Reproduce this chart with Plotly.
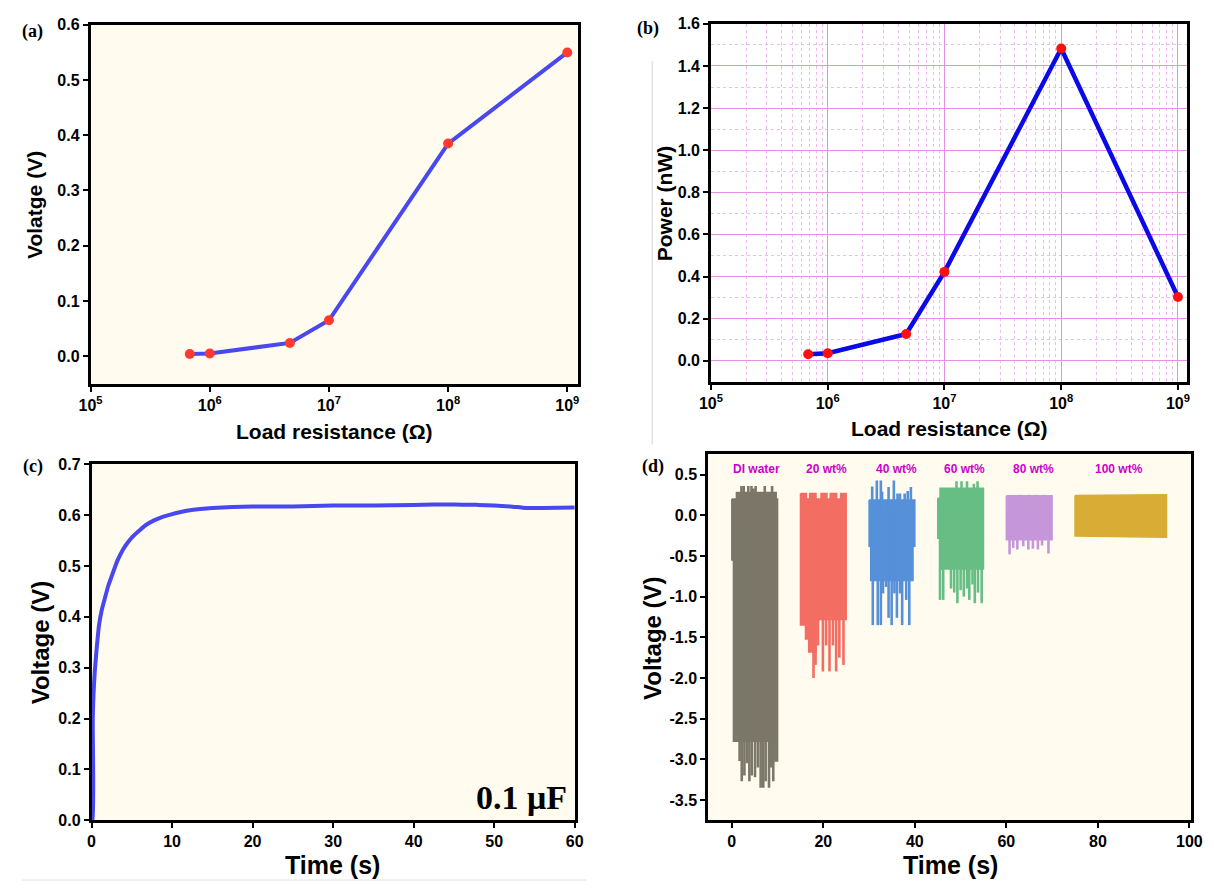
import plotly.graph_objects as go

# ---------------- data ----------------
# (a) / (b) load-resistance sweep
R_load = [6.8e5, 1e6, 4.7e6, 1e7, 1e8, 1e9]
voltage_a = [0.004, 0.005, 0.024, 0.065, 0.385, 0.55]
power_b = [0.031, 0.036, 0.127, 0.422, 1.483, 0.303]

# (c) capacitor charging (0.1 uF)
t_c = [0, 0.12, 0.15, 0.25, 0.41, 0.65, 0.93, 1.25, 1.63, 2.1, 2.64, 3.2, 3.86, 4.45, 5.08,
       5.9, 6.7, 7.7, 8.74, 9.8, 10.8, 12.0, 13.5, 15, 17.5, 20, 25, 30, 35, 40, 45, 48,
       50, 52, 54, 56, 60]
v_c = [0, 0, 0.197, 0.25, 0.294, 0.34, 0.384, 0.412, 0.435, 0.462, 0.486, 0.51, 0.531, 0.545, 0.557,
       0.569, 0.58, 0.589, 0.596, 0.601, 0.605, 0.609, 0.612, 0.614, 0.616, 0.617, 0.617, 0.619, 0.619,
       0.62, 0.621, 0.62, 0.619, 0.617, 0.614, 0.614, 0.615]

# (d) output signals for different concentrations
samples = ["DI water", "20 wt%", "40 wt%", "60 wt%", "80 wt%", "100 wt%"]
sample_colors = ["#7b7769", "#f46d62", "#5590d9", "#67be84", "#c596d9", "#d9ad35"]
label_t = [5.3, 20.6, 36.1, 50.8, 65.9, 84.6]
label_v = 0.57

# envelopes of the dense oscillation band: edges (t) and levels (V)
# "step": levels hold between edges; "linear": levels are corner values at the edges
env_kind = ["step", "step", "step", "step", "step", "linear"]
upper_t = [[0, 1.0, 9.7, 10], [15, 16.3, 17.0, 18.4, 19.5, 20.8, 21.5, 22.9, 23.8, 25],
           [30, 40], [45, 45.5, 55], [60, 70], [75, 95]]
upper_v = [[0.2, 0.28, 0.2], [0.27, 0.2, 0.27, 0.2, 0.27, 0.2, 0.27, 0.2, 0.27],
           [0.19], [0.21, 0.335], [0.24], [0.245, 0.255]]
lower_t = [[0, 0.35, 9.4, 10], [15, 16.1, 16.8, 18.4, 25],
           [30, 30.35, 39.6, 40], [45, 45.5, 55], [60, 70], [75, 95]]
lower_v = [[-0.55, -2.78, -3.02], [-1.35, -1.52, -1.68, -1.28],
           [-0.38, -0.8, -0.38], [-0.28, -0.66], [-0.30], [-0.255, -0.27]]

# individual spikes (peak times and peak voltages)
up_spike_t = [[2.1, 2.6, 3.6, 4.3, 4.7, 5.2, 7.2, 8.8], [],
              [30.68, 31.69, 32.57, 32.84, 34.26, 35.41, 36.22, 36.76, 37.77, 38.45, 39.13],
              [49.1, 50.2, 51.4, 52.9, 53.7], [63, 65, 66.5, 68.3], []]
up_spike_v = [[0.36, 0.36, 0.36, 0.36, 0.33, 0.36, 0.36, 0.36], [],
              [0.355, 0.43, 0.43, 0.29, 0.35, 0.43, 0.27, 0.27, 0.27, 0.3, 0.35],
              [0.42, 0.42, 0.42, 0.39, 0.42], [0.255, 0.255, 0.255, 0.255], []]
down_spike_t = [[1.7, 2.17, 2.75, 3.3, 3.84, 4.35, 5.07, 5.7, 6.3, 6.88, 7.39, 8.12, 8.6, 9.06, 9.78],
                [17.85, 18.3, 18.85, 19.9, 20.6, 21.35, 22.1, 22.8, 23.5, 24.4],
                [30.81, 31.89, 32.57, 33.04, 33.72, 34.26, 34.93, 35.54, 36.08, 36.76, 37.23, 38.11, 38.79],
                [45.5, 46.2, 47.9, 48.6, 49.3, 50.0, 50.7, 51.4, 51.9, 52.6, 53.1, 53.8, 54.6],
                [60.7, 61.5, 62.4, 63.7, 64.8, 65.8, 66.9, 67.8, 69.2], []]
down_spike_v = [[-3.02, -3.27, -3.2, -3.05, -3.27, -3.2, -3.22, -3.1, -3.35, -3.35, -3.27, -3.35, -3.1, -3.27, -3.02],
                [-2.0, -1.84, -1.6, -1.92, -1.6, -1.92, -1.6, -1.92, -1.75, -1.84],
                [-1.35, -1.35, -1.35, -0.96, -0.88, -1.26, -1.35, -0.96, -1.26, -0.96, -1.35, -1.04, -1.35],
                [-1.04, -1.04, -0.9, -0.95, -1.08, -0.92, -1.0, -0.9, -1.04, -0.85, -1.08, -0.95, -1.08],
                [-0.48, -0.40, -0.42, -0.38, -0.42, -0.41, -0.42, -0.37, -0.47], []]

# tick labels
log_ticks = [1e5, 1e6, 1e7, 1e8, 1e9]
log_ticktext = ["10<sup>5</sup>", "10<sup>6</sup>", "10<sup>7</sup>", "10<sup>8</sup>", "10<sup>9</sup>"]
d_yticks = [0.5, 0.0, -0.5, -1.0, -1.5, -2.0, -2.5, -3.0, -3.5]
d_yticktext = ["0.5", "0.0", "-0.5", "-1.0", "-1.5", "-2.0", "-2.5", "-3.0", "-3.5"]

# ---------------- figure ----------------
OFF_X, OFF_Y = 8, 6       # page margin compensation
W, H = 1214 - OFF_X, 890 - OFF_Y
def fx(p): return (p - OFF_X) / W
def fy(p): return 1 - (p - OFF_Y) / H

CREAM = "#fffcef"
fig = go.Figure()

# (a)
fig.add_trace(go.Scatter(x=R_load, y=voltage_a, mode="lines+markers", xaxis="x", yaxis="y",
                         line=dict(color="#4848ee", width=4),
                         marker=dict(color="#ff3b2f", size=10), showlegend=False))
# (b)
fig.add_trace(go.Scatter(x=R_load, y=power_b, mode="lines+markers", xaxis="x2", yaxis="y2",
                         line=dict(color="#0a0ae6", width=4.5),
                         marker=dict(color="#ff1010", size=10), showlegend=False))
# (c)
fig.add_trace(go.Scatter(x=t_c, y=v_c, mode="lines", xaxis="x3", yaxis="y3",
                         line=dict(color="#4848ee", width=4, shape="spline", smoothing=0.6),
                         showlegend=False))

# (d)
def env_path(ts, vs, kind):
    if kind == "linear":
        return list(ts), list(vs)
    xs, ys = [], []
    for i, v in enumerate(vs):
        xs += [ts[i], ts[i + 1]]
        ys += [v, v]
    return xs, ys

for i, name in enumerate(samples):
    ux, uy = env_path(upper_t[i], upper_v[i], env_kind[i])
    lx, ly = env_path(lower_t[i], lower_v[i], env_kind[i])
    px_ = ux + lx[::-1] + [ux[0]]
    py_ = uy + ly[::-1] + [uy[0]]
    fig.add_trace(go.Scatter(x=px_, y=py_, mode="lines", fill="toself", fillcolor=sample_colors[i],
                             line=dict(color=sample_colors[i], width=1.5), xaxis="x4", yaxis="y4",
                             showlegend=False, name=name))
    sx, sy = [], []
    for t, v in zip(up_spike_t[i], up_spike_v[i]):
        sx += [t, t, None]; sy += [0, v, None]
    for t, v in zip(down_spike_t[i], down_spike_v[i]):
        sx += [t, t, None]; sy += [0, v, None]
    if sx:
        fig.add_trace(go.Scatter(x=sx, y=sy, mode="lines", line=dict(color=sample_colors[i], width=2.6),
                                 xaxis="x4", yaxis="y4", showlegend=False, connectgaps=False))

TICKFONT = dict(family="Liberation Sans, Arial, sans-serif", size=16, color="black", weight="bold")
base = dict(showline=True, linecolor="black", linewidth=2.5, mirror=True, ticks="outside",
            ticklen=5, tickwidth=2, tickcolor="black", tickfont=TICKFONT, showgrid=False,
            zeroline=False, fixedrange=True)

# pixel boxes on the page: (left, right, top, bottom)
boxA = (80, 577, 15, 381)
boxB = (713, 1199, 14, 379)
boxC = (81, 574, 463, 826)
boxD = (710, 1203, 453, 826)

def dom(box):
    l, r, t, b = box
    return [fx(l), fx(r)], [fy(b), fy(t)]

dA = dom(boxA); dB = dom(boxB); dC = dom(boxC); dD = dom(boxD)

fig.update_layout(
    width=W, height=H, margin=dict(l=0, r=0, t=0, b=0),
    paper_bgcolor="white", plot_bgcolor="white",
    xaxis=dict(base, type="log", range=[5, 9.087], tickvals=log_ticks, ticktext=log_ticktext,
               domain=dA[0], anchor="y"),
    yaxis=dict(base, range=[-0.05, 0.6], dtick=0.1, tick0=0, tickformat=".1f", domain=dA[1], anchor="x"),
    xaxis2=dict(base, type="log", range=[5, 9.08], tickvals=log_ticks, ticktext=log_ticktext,
                domain=dB[0], anchor="y2",
                showgrid=True, gridcolor="#e590e5", gridwidth=1,
                minor=dict(showgrid=True, gridcolor="#f1b9f1", griddash="dot", gridwidth=1,
                           dtick="D1", ticks="")),
    yaxis2=dict(base, range=[-0.1, 1.6], dtick=0.2, tick0=0, tickformat=".1f", domain=dB[1], anchor="x2",
                showgrid=True, gridcolor="#e590e5", gridwidth=1,
                minor=dict(showgrid=True, gridcolor="#f1b9f1", griddash="dot", gridwidth=1,
                           dtick=0.1, tick0=0, ticks="")),
    xaxis3=dict(base, range=[0, 60], dtick=10, domain=dC[0], anchor="y3"),
    yaxis3=dict(base, range=[0, 0.7], dtick=0.1, tickformat=".1f", domain=dC[1], anchor="x3"),
    xaxis4=dict(base, range=[-5.2, 100.4], tickvals=[0, 20, 40, 60, 80, 100], domain=dD[0], anchor="y4"),
    yaxis4=dict(base, range=[-3.75, 0.75], tickvals=d_yticks, ticktext=d_yticktext,
                domain=dD[1], anchor="x4"),
)

# cream plot backgrounds for a, c, d
shapes = []
for xr, yr in [("x", "y"), ("x3", "y3"), ("x4", "y4")]:
    shapes.append(dict(type="rect", xref=f"{xr} domain", yref=f"{yr} domain", x0=0, x1=1, y0=0, y1=1,
                       fillcolor=CREAM, line=dict(width=0), layer="below"))
# thin grey scan-edge lines of the composite
shapes.append(dict(type="line", xref="paper", yref="paper", x0=fx(653), x1=fx(653), y0=fy(52), y1=fy(443),
                   line=dict(color="#d5d5d5", width=1)))
shapes.append(dict(type="line", xref="paper", yref="paper", x0=fx(10), x1=fx(586), y0=fy(887), y1=fy(887),
                   line=dict(color="#e0e0e0", width=1)))
fig.update_layout(shapes=shapes)

TITLE_AB = dict(family="Liberation Sans, Arial, sans-serif", size=21, color="black", weight="bold")
TITLE_CD = dict(family="Liberation Sans, Arial, sans-serif", size=24, color="black", weight="bold")
TITLE_T = dict(family="Liberation Sans, Arial, sans-serif", size=25, color="black", weight="bold")
PANELFONT = dict(family="Liberation Serif, Times New Roman, serif", size=18, color="black", weight="bold")
ann = []
def paper_text(text, x, y, font, angle=0):
    ann.append(dict(text=text, x=fx(x), y=fy(y), xref="paper", yref="paper", showarrow=False,
                    xanchor="center", yanchor="middle", font=font, textangle=angle))

paper_text("Load resistance (Ω)", 329, 430, TITLE_AB)
paper_text("Load resistance (Ω)", 956, 427, TITLE_AB)
paper_text("Time (s)", 327, 872, TITLE_T)
paper_text("Time (s)", 957, 872, TITLE_T)
paper_text("Volatge (V)", 23, 199, TITLE_AB, -90)
paper_text("Power (nW)", 665, 197, TITLE_AB, -90)
paper_text("Voltage (V)", 29, 645, TITLE_CD, -90)
paper_text("Voltage (V)", 654, 640, TITLE_CD, -90)
paper_text("(a)", 21, 22, PANELFONT)
paper_text("(b)", 649, 19, PANELFONT)
paper_text("(c)", 21, 465, PANELFONT)
paper_text("(d)", 654, 465, PANELFONT)

ann.append(dict(text="0.1 μF", x=59.3, y=0.045, xref="x3", yref="y3", showarrow=False,
                xanchor="right", yanchor="middle",
                font=dict(family="Liberation Serif, Times New Roman, serif", size=34, color="black", weight="bold")))
for name, t in zip(samples, label_t):
    ann.append(dict(text=name, x=t, y=label_v, xref="x4", yref="y4", showarrow=False,
                    xanchor="center", yanchor="middle",
                    font=dict(family="Liberation Sans, Arial, sans-serif", size=12, color="#cc00cc", weight="bold")))
fig.update_layout(annotations=ann)

fig.write_html("out.html")
